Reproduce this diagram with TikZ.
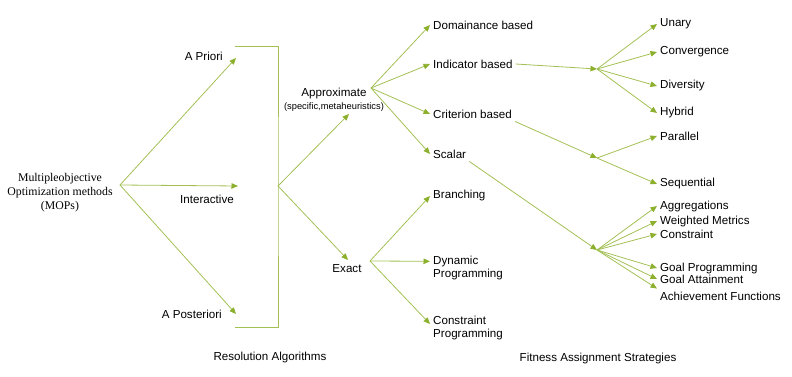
\documentclass[tikz,border=0pt]{standalone}
\usepackage{fontspec}
\setmainfont{Liberation Serif}
\setsansfont{Liberation Sans}
\usetikzlibrary{arrows.meta,positioning}

\definecolor{stem}{RGB}{163,192,85}
\definecolor{tipgreen}{RGB}{140,176,45}

\begin{document}
\begin{tikzpicture}[
    x=1pt, y=-1pt,
    every node/.style={font=\sffamily\fontsize{11.6}{13}\selectfont, inner sep=3pt},
    item/.style={anchor=west, align=left},
    caption/.style={anchor=center},
    rail/.style={draw=stem, line width=0.8pt},
    flow/.style={rail, -{Triangle[length=6.5pt,width=5.5pt,color=tipgreen]}}
]
\useasboundingbox (0,0) rectangle (792,377);

% methods
\node[font=\rmfamily\fontsize{11.8}{14}\selectfont, align=center] (mop) at (60,193) {Multipleobjective\\Optimization methods\\(MOPs)};
\coordinate (mop-out) at (120,185);

\coordinate (priori-in) at (236,58);
\coordinate (inter-in) at (238,186);
\coordinate (post-in) at (236,314);
\node[anchor=east] (priori) at (226,56) {A Priori};
\node (inter) at (207,199) {Interactive};
\node[anchor=east] (post) at (225,314) {A Posteriori};
\draw[flow] (mop-out) -- (priori-in);
\draw[flow] (mop-out) -- (inter-in);
\draw[flow] (mop-out) -- (post-in);

% bracket
\coordinate (brk-top) at (235,46);
\coordinate (brk-bot) at (235,327);
\coordinate (hub) at (278,186);
\draw[rail] (brk-top) -| (hub) |- (brk-bot);

% resolution algorithms
\node[align=center] (approx) at (334,100) {Approximate\\{\fontsize{9.3}{11}\selectfont(specific,metaheuristics)}};
\node (exact) at (347,269) {Exact};
\coordinate (approx-in) at (349,114);
\coordinate (approx-out) at (371,88);
\coordinate (exact-in) at (348,260);
\coordinate (exact-out) at (370,261);
\draw[flow] (hub) -- (approx-in);
\draw[flow] (hub) -- (exact-in);

\node[item] (dom) at (430,25) {Domainance based};
\node[item] (ind) at (430,64) {Indicator based};
\node[item] (crit) at (430,114) {Criterion based};
\node[item] (scal) at (430,154) {Scalar};
\draw[flow] (approx-out) -- (dom.west);
\draw[flow] (approx-out) -- (ind.west);
\draw[flow] (approx-out) -- (crit.west);
\draw[flow] (approx-out) -- (scal.west);

\node[item] (branch) at (430,196) {Branching};
\node[item] (dyn) at (430,268) {Dynamic\\Programming};
\node[item] (cprog) at (430,328) {Constraint\\Programming};
\draw[flow] (exact-out) -- (branch.west);
\draw[flow] (exact-out) -- (dyn.170);
\draw[flow] (exact-out) -- (cprog.174);

% fitness assignment
\coordinate (ind-hub) at (597,69);
\coordinate (crit-hub) at (597,158);
\coordinate (scal-hub) at (597,250);
\draw[flow] (ind.east) -- (ind-hub);
\draw[flow] (crit.south east) -- (crit-hub);
\draw[flow] (scal.south east) -- (scal-hub);

\node[item] (unary) at (657,24) {Unary};
\node[item] (conv) at (657,52) {Convergence};
\node[item] (div) at (657,86) {Diversity};
\node[item] (hyb) at (657,113) {Hybrid};
\draw[flow] (ind-hub) -- (unary.west);
\draw[flow] (ind-hub) -- (conv.west);
\draw[flow] (ind-hub) -- (div.west);
\draw[flow] (ind-hub) -- (hyb.west);

\node[item] (par) at (657,136) {Parallel};
\node[item] (seq) at (657,184) {Sequential};
\draw[flow] (crit-hub) -- (par.west);
\draw[flow] (crit-hub) -- (seq.west);

\node[item] (aggr) at (657,206) {Aggregations};
\node[item] (wmet) at (657,221) {Weighted Metrics};
\node[item] (cons) at (657,234) {Constraint};
\node[item] (gprog) at (657,268) {Goal Programming};
\node[item] (gatt) at (657,279) {Goal Attainment};
\node[item] (ach) at (657,296) {Achievement Functions};
\draw[flow] (scal-hub) -- (aggr.west);
\draw[flow] (scal-hub) -- (wmet.west);
\draw[flow] (scal-hub) -- (cons.west);
\draw[flow] (scal-hub) -- (gprog.west);
\draw[flow] (scal-hub) -- (gatt.west);
\draw[flow] (scal-hub) -- (ach.north west);

% captions
\node[caption] (res-cap) at (270,357) {Resolution Algorithms};
\node[caption] (fit-cap) at (598,358) {Fitness Assignment Strategies};
\end{tikzpicture}
\end{document}
